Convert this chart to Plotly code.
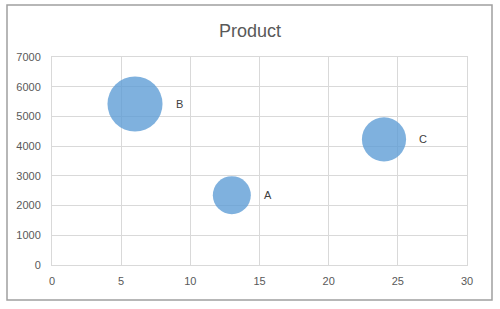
import math
import plotly.graph_objects as go

labels = ["A", "B", "C"]
x_vals = [13, 6, 24]
y_vals = [2350, 5420, 4230]
bubble_sizes = [20, 42, 27]

sizeref = 20 / 722

fig = go.Figure()
fig.add_trace(go.Scatter(
    x=x_vals, y=y_vals, mode="markers",
    marker=dict(size=bubble_sizes, sizemode="area", sizeref=sizeref, opacity=1,
                color="rgba(91,155,213,0.78)", line=dict(width=0)),
    hoverinfo="skip", cliponaxis=False,
))

for lab, xv, yv, s in zip(labels, x_vals, y_vals, bubble_sizes):
    r = math.sqrt(s / (2 * sizeref))
    fig.add_annotation(x=xv, y=yv, text=lab, showarrow=False, xanchor="left",
                       yanchor="middle", xshift=r + 11,
                       font=dict(family="Liberation Sans, Arial", size=11, color="#404040"))

axis_font = dict(family="Liberation Sans, Arial", size=11, color="#595959")
fig.update_layout(
    width=500, height=309,
    margin=dict(l=52, r=33, t=57, b=44),
    paper_bgcolor="white", plot_bgcolor="white",
    showlegend=False,
    title=dict(text="Product", x=0.5, xanchor="center", y=1 - 31 / 309, yanchor="middle",
               font=dict(family="Liberation Sans, Arial", size=18, color="#595959")),
    xaxis=dict(range=[0, 30], dtick=5, showgrid=True, gridcolor="#d9d9d9", gridwidth=1,
               zeroline=False, showline=True, linecolor="#d9d9d9", mirror=True,
               ticks="outside", ticklen=6, tickcolor="rgba(0,0,0,0)", tickfont=axis_font),
    yaxis=dict(range=[0, 7000], dtick=1000, showgrid=True, gridcolor="#d9d9d9", gridwidth=1,
               zeroline=False, showline=True, linecolor="#d9d9d9", mirror=True,
               ticks="outside", ticklen=8, tickcolor="rgba(0,0,0,0)", tickfont=axis_font),
    shapes=[dict(type="rect", xref="paper", yref="paper",
                 x0=-45 / 415, x1=(492 - 52) / 415,
                 y0=-(300 - 265) / 208, y1=(265 - 5) / 208,
                 line=dict(color="#a0a0a0", width=1.5), fillcolor="rgba(0,0,0,0)", layer="below")],
)

fig.write_html("out.html")
